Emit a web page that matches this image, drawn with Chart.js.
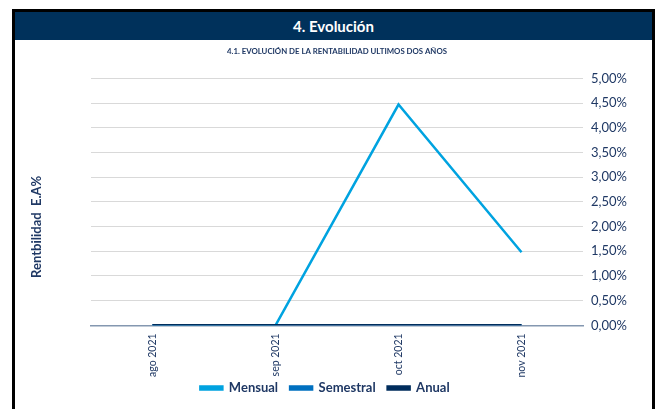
<!DOCTYPE html>
<html lang="es">
<head>
<meta charset="UTF-8">
<title>Evolución</title>
<script src="https://cdn.jsdelivr.net/npm/chart.js"></script>
<style>
    body { margin: 0; background: #fff; font-family: Lato, "Open Sans", sans-serif; }
    #marco {
        position: absolute; left: 12px; top: 9px; width: 637px; height: 400px;
        border: 3px solid #000; border-bottom: none;
    }
    #cabecera {
        height: 28px; line-height: 28px; background: #00315B; color: #fff;
        text-align: center; font-weight: bold; font-size: 15px;
    }
    #lienzo { position: relative; width: 637px; height: 369px; }
</style>
</head>
<body>
<div id="marco">
    <div id="cabecera">4. Evolución</div>
    <div id="lienzo"><canvas id="grafico"></canvas></div>
</div>
<script>
    // datos
    var meses = ['ago 2021', 'sep 2021', 'oct 2021', 'nov 2021'];
    var mensual = [0, 0, 4.47, 1.48];
    var semestral = [0, 0, 0, 0];
    var anual = [0, 0, 0, 0];
    var marcasY = [0, 0.5, 1, 1.5, 2, 2.5, 3, 3.5, 4, 4.5, 5];

    var azulTexto = '#1F3864';
    Chart.defaults.font.family = 'Lato';

    function serie(nombre, valores, color, orden) {
        return {
            label: nombre, data: valores, borderColor: color, backgroundColor: color,
            borderWidth: 2.5, pointRadius: 0, tension: 0, order: orden
        };
    }

    // ajustes finos: titulo del eje mas abajo y leyenda pegada a las etiquetas
    var ajustes = {
        id: 'ajustes',
        afterLayout: function (chart) {
            chart.scales.yTitulo.bottom += 50;
            chart.legend.top -= 16;
            chart.legend.bottom -= 16;
        }
    };

    new Chart(document.getElementById('grafico'), {
        type: 'line',
        data: {
            labels: meses,
            datasets: [
                serie('Mensual', mensual, '#00A3E0', 3),
                serie('Semestral', semestral, '#0070C0', 2),
                serie('Anual', anual, '#002D5C', 1)
            ]
        },
        plugins: [ajustes],
        options: {
            responsive: true,
            maintainAspectRatio: false,
            animation: false,
            layout: { padding: { left: 0, right: 17, bottom: -11.5 } },
            plugins: {
                title: {
                    display: true,
                    fullSize: false,
                    text: '4.1. EVOLUCIÓN DE LA RENTABILIDAD ULTIMOS DOS AÑOS',
                    color: azulTexto,
                    font: { size: 7.8, weight: 'bold' },
                    padding: { top: 7, bottom: 22 }
                },
                legend: {
                    position: 'bottom',
                    labels: {
                        boxWidth: 22, boxHeight: 3, padding: 12,
                        color: azulTexto,
                        font: { size: 13, weight: 'bold' },
                        sort: (a, b) => a.datasetIndex - b.datasetIndex
                    }
                },
                tooltip: { enabled: false }
            },
            scales: {
                x: {
                    offset: true,
                    grid: { display: false, drawTicks: false },
                    border: { color: '#8497B0', width: 1.5 },
                    ticks: { minRotation: 90, maxRotation: 90, padding: 8, color: azulTexto, font: { size: 10.5 } }
                },
                y: {
                    position: 'right',
                    min: 0, max: 5,
                    afterBuildTicks: function (escala) {
                        escala.ticks = marcasY.map(v => ({ value: v }));
                    },
                    grid: { color: '#D9D9D9', lineWidth: 1, drawTicks: false },
                    border: { display: false },
                    ticks: {
                        padding: 8, color: azulTexto, font: { size: 13 },
                        callback: v => v.toFixed(2).replace('.', ',') + '%'
                    }
                },
                yTitulo: {
                    position: 'left',
                    grid: { display: false },
                    border: { display: false },
                    ticks: { display: false },
                    title: {
                        display: true, text: 'Rentbilidad  E.A%', color: azulTexto,
                        font: { size: 13, weight: 'bold' }, padding: 14
                    },
                    afterFit: function (escala) { escala.width = 76; }
                }
            }
        }
    });
</script>
</body>
</html>
